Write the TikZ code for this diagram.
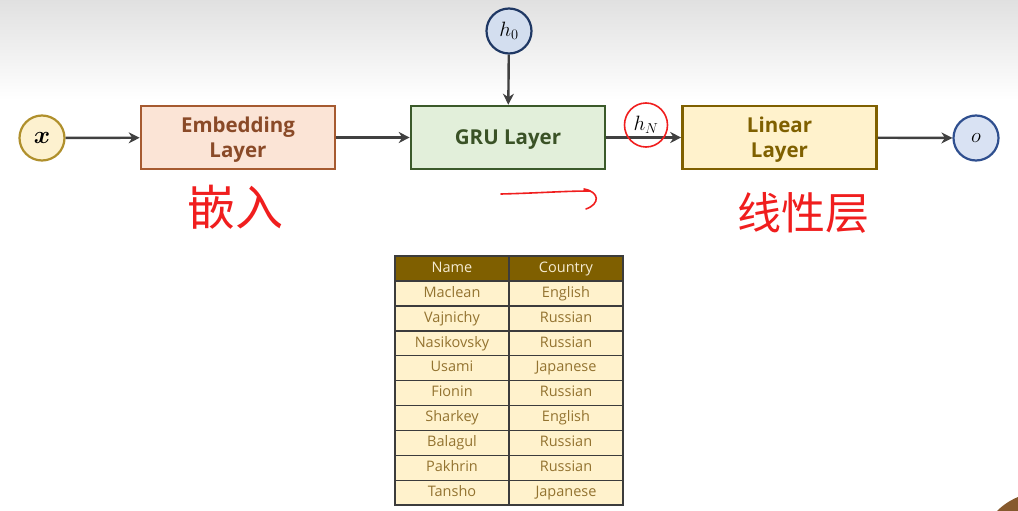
\documentclass[tikz,border=0pt]{standalone}
\usepackage{amsmath}
\usepackage{fontspec}
\setmainfont{Open Sans}
\newfontfamily\cjk{Noto Sans CJK SC}
\usetikzlibrary{arrows.meta,shapes.geometric}
\definecolor{arrowgray}{HTML}{404040}
\definecolor{xfill}{HTML}{FDF1CF}
\definecolor{xdraw}{HTML}{B0902C}
\definecolor{embfill}{HTML}{FBE4D6}
\definecolor{embdraw}{HTML}{A65A30}
\definecolor{embtext}{HTML}{8A4A28}
\definecolor{grufill}{HTML}{E2EFDA}
\definecolor{grudraw}{HTML}{3B5A2A}
\definecolor{grutext}{HTML}{3A5226}
\definecolor{linfill}{HTML}{FFF2CC}
\definecolor{lindraw}{HTML}{7F6000}
\definecolor{lintext}{HTML}{7F6000}
\definecolor{hfill}{HTML}{D3DEEF}
\definecolor{hdraw}{HTML}{1F3864}
\definecolor{ofill}{HTML}{D9E2F3}
\definecolor{odraw}{HTML}{2F4F8F}
\definecolor{hand}{HTML}{F01E1E}
\definecolor{thead}{HTML}{7F5F00}
\definecolor{theadtext}{HTML}{F5EBD2}
\definecolor{tfill}{HTML}{FFF2CC}
\definecolor{ttext}{HTML}{937330}
\definecolor{tline}{HTML}{3C3C3C}
\tikzset{
  circnode/.style={circle, minimum size=45pt, inner sep=0pt, line width=2.2pt},
  layerbox/.style={rectangle, minimum width=194pt, minimum height=63pt, line width=2.6pt,
    align=center, text depth=-4pt, font=\bfseries\fontsize{20.5}{25}\selectfont},
  arr/.style={draw=arrowgray, line width=2.4pt, -{Stealth[length=11pt,width=11pt,inset=3.5pt]}},
  handline/.style={draw=hand, line width=1.6pt, line cap=round},
  handtext/.style={text=hand, inner sep=0pt},
  cell/.style={draw=tline, line width=1.4pt, minimum width=114pt, minimum height=24.9pt,
    inner sep=0pt, text height=10.5pt, text depth=3pt, font=\fontsize{14.5}{16}\selectfont},
  bodycell/.style={cell, fill=tfill, text=ttext},
  headcell/.style={cell, fill=thead, text=theadtext}
}
\begin{document}
\begin{tikzpicture}[x=1pt,y=-1pt]
\useasboundingbox (0,0) rectangle (1018,511);
\shade[top color=black!12, bottom color=white] (0,0) rectangle (1018,100);
\fill[white] (0,100) rectangle (1018,511);

% nodes
\node[circnode, fill=xfill, draw=xdraw, font=\fontsize{23}{25}\selectfont] (x) at (42,138) {$\boldsymbol{x}$};
\node[layerbox, fill=embfill, draw=embdraw, text=embtext] (emb) at (238,137.5) {Embedding\\Layer};
\node[layerbox, fill=grufill, draw=grudraw, text=grutext] (gru) at (508,137.5) {GRU Layer};
\node[layerbox, fill=linfill, draw=lindraw, text=lintext] (lin) at (779.5,137.5) {Linear\\Layer};
\node[circnode, fill=hfill, draw=hdraw, font=\fontsize{22}{24}\selectfont] (h0) at (509,31) {$h_0$};
\node[circnode, fill=ofill, draw=odraw, font=\fontsize{22}{24}\selectfont] (o) at (976,138) {$o$};

% connectors
\draw[arr] (x) -- (emb);
\draw[arr] (emb) -- (gru);
\draw[arr] (h0) -- (gru);
\draw[arr] (gru) -- (lin);
\draw[arr] (lin) -- (o);

% hand annotations
\node[ellipse, draw=hand, line width=1.6pt, minimum width=43pt, minimum height=44pt, inner sep=0pt,
  font=\fontsize{21}{23}\selectfont] (hN) at (646,125) {$h_N$};
\node[handtext, font=\cjk\fontsize{48}{50}\selectfont] (qian) at (235,207) {嵌入};
\node[handtext, font=\cjk\fontsize{44}{46}\selectfont] (xian) at (803,213) {线性层};
\draw[handline] (501,194) .. controls (540,193) and (565,191) .. (590,191);
\draw[handline] (584,189) .. controls (600,192) and (600,204) .. (586,209);

% table
\node[headcell] (hname) at (452,268.5) {Name};
\node[headcell] (hcountry) at (566,268.5) {Country};
\foreach \nm/\ct [count=\i] in {Maclean/English, Vajnichy/Russian, Nasikovsky/Russian,
  Usami/Japanese, Fionin/Russian, Sharkey/English, Balagul/Russian, Pakhrin/Russian,
  Tansho/Japanese}{
  \node[bodycell] (n\i) at (452,{281+(\i-0.5)*24.9}) {\nm};
  \node[bodycell] (c\i) at (566,{281+(\i-0.5)*24.9}) {\ct};
}

% corner artifact
\fill[brown!70!black] (997,511) .. controls (1004,504) and (1011,500) .. (1018,497) -- (1018,511) -- cycle;
\end{tikzpicture}
\end{document}
